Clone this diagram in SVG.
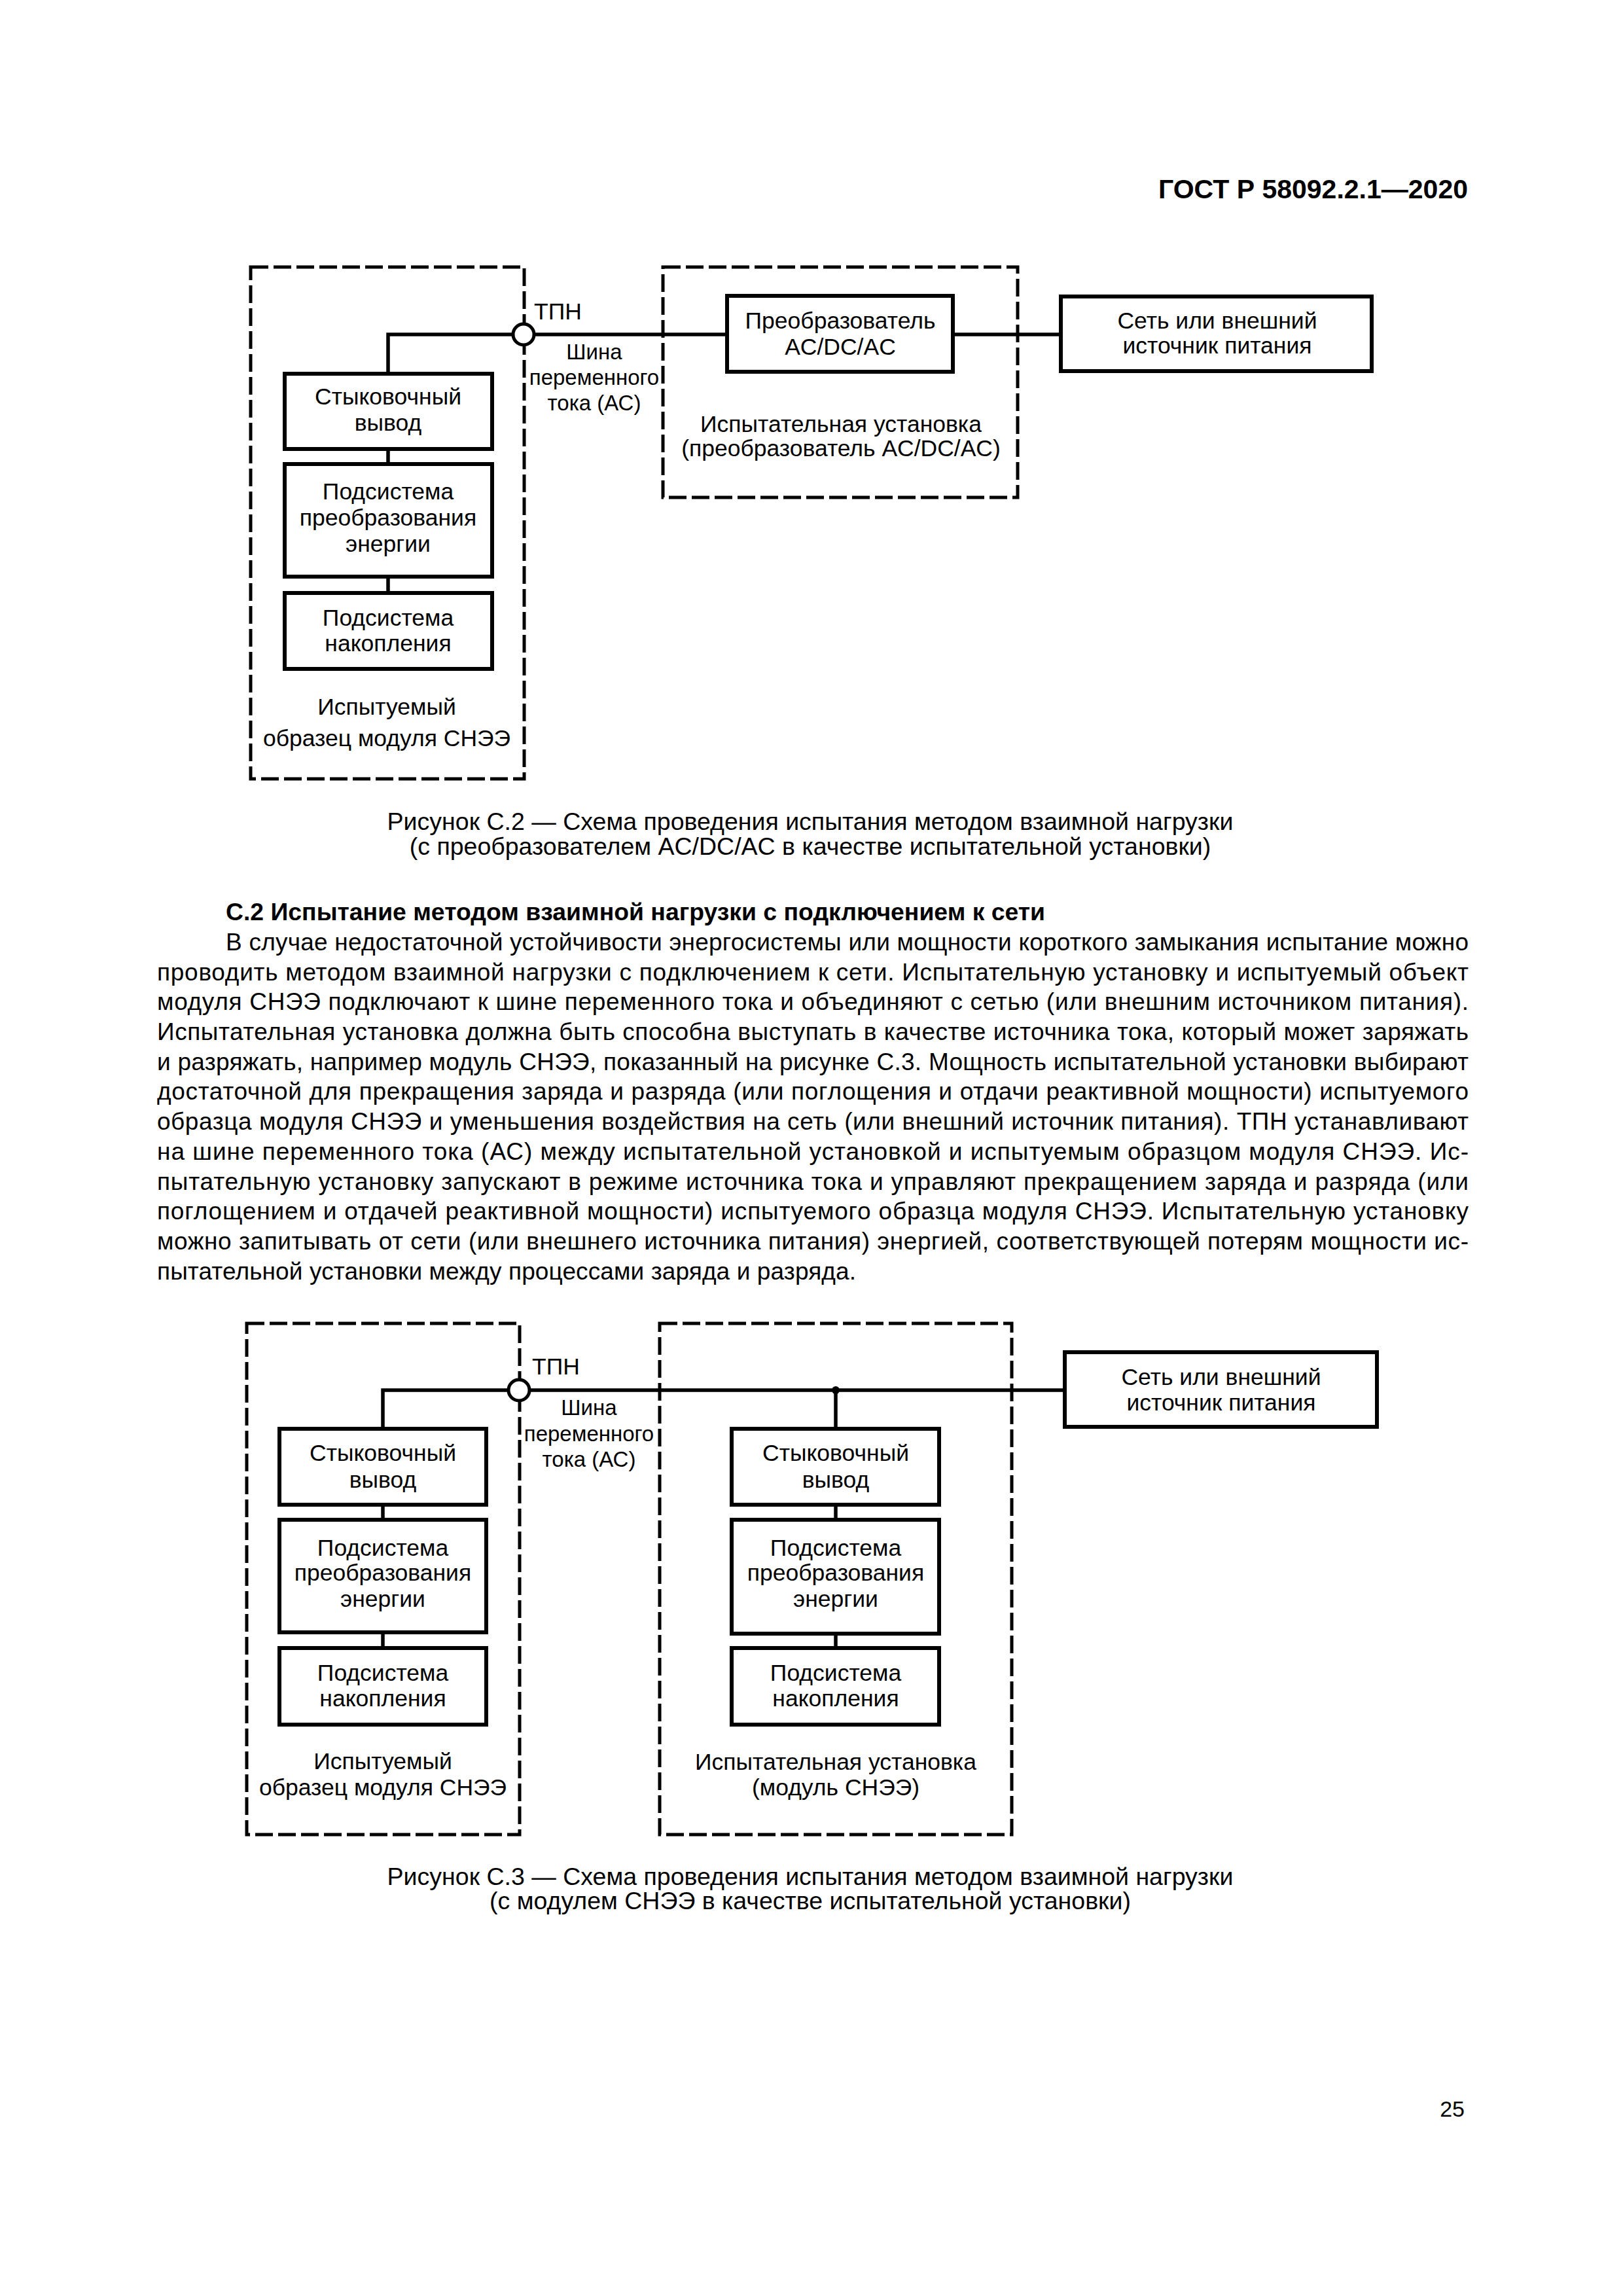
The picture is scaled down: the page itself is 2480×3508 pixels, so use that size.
<svg xmlns="http://www.w3.org/2000/svg" width="2480" height="3508" viewBox="0 0 2480 3508">
<style>
.dash{fill:none;stroke:#000;stroke-width:5;stroke-dasharray:27 8}
.box{fill:#fff;stroke:#000;stroke-width:6}
.wire{fill:none;stroke:#000;stroke-width:5.5}
.tp{fill:#fff;stroke:#000;stroke-width:5}
text{font-family:"Liberation Sans",Arial,sans-serif;fill:#000}
.d{font-size:35.5px}
.bus{font-size:33px}
.c{text-anchor:middle}
.cap{font-size:37.5px;text-anchor:middle}
.body{font-size:37px}
.h{font-size:37px;font-weight:bold}
</style>
<rect width="2480" height="3508" fill="#fff"/>
<text x="2243" y="303" font-size="41" font-weight="bold" text-anchor="end">ГОСТ Р 58092.2.1—2020</text>

<!-- Figure C.2 -->
<g id="c2-frames">
<path class="dash" d="M383 408 H801 V1190 H383 Z"/>
<path class="dash" d="M1013 408 H1555 V760 H1013 Z"/>
</g>
<g id="c2-connectors">
<path class="wire" d="M593 570 V511 H1111"/>
<path class="wire" d="M1456 511 H1621"/>
<path class="wire" d="M593 686 V709"/>
<path class="wire" d="M593 881 V906"/>
</g>
<g id="c2-dock">
<rect class="box" x="435" y="571" width="317" height="115"/>
<text class="d c" x="593" y="618">Стыковочный</text>
<text class="d c" x="593" y="658">вывод</text>
</g>
<g id="c2-pcs">
<rect class="box" x="435" y="709" width="317" height="172"/>
<text class="d c" x="593" y="763">Подсистема</text>
<text class="d c" x="593" y="803">преобразования</text>
<text class="d c" x="593" y="843">энергии</text>
</g>
<g id="c2-storage">
<rect class="box" x="435" y="906" width="317" height="116"/>
<text class="d c" x="593" y="956">Подсистема</text>
<text class="d c" x="593" y="995">накопления</text>
</g>
<g id="c2-dut-label">
<text class="d c" x="591" y="1092">Испытуемый</text>
<text class="d c" x="591" y="1140">образец модуля СНЭЭ</text>
</g>
<g id="c2-tpn">
<circle class="tp" cx="800" cy="511" r="16"/>
<text class="d" x="816" y="488">ТПН</text>
<text class="bus c" x="908" y="549">Шина</text>
<text class="bus c" x="908" y="588">переменного</text>
<text class="bus c" x="908" y="627">тока (АС)</text>
</g>
<g id="c2-converter">
<rect class="box" x="1111" y="452" width="345" height="116"/>
<text class="d c" x="1284" y="502">Преобразователь</text>
<text class="d c" x="1284" y="542">AC/DC/AC</text>
</g>
<g id="c2-tester-label">
<text class="d c" x="1285" y="660">Испытательная установка</text>
<text class="d c" x="1285" y="697">(преобразователь AC/DC/AC)</text>
</g>
<g id="c2-grid">
<rect class="box" x="1621" y="453" width="475" height="114"/>
<text class="d c" x="1860" y="502">Сеть или внешний</text>
<text class="d c" x="1860" y="540">источник питания</text>
</g>

<text class="cap" x="1238" y="1268">Рисунок С.2 — Схема проведения испытания методом взаимной нагрузки</text>
<text class="cap" x="1238" y="1306">(с преобразователем AC/DC/AC в качестве испытательной установки)</text>

<text class="h" x="345" y="1406" textLength="1252" lengthAdjust="spacingAndGlyphs">С.2 Испытание методом взаимной нагрузки с подключением к сети</text>
<g class="body">
<text class="body" x="345" y="1452" textLength="1899" lengthAdjust="spacing">В случае недостаточной устойчивости энергосистемы или мощности короткого замыкания испытание можно</text>
<text class="body" x="240" y="1498" textLength="2004" lengthAdjust="spacing">проводить методом взаимной нагрузки с подключением к сети. Испытательную установку и испытуемый объект</text>
<text class="body" x="240" y="1543" textLength="2004" lengthAdjust="spacing">модуля СНЭЭ подключают к шине переменного тока и объединяют с сетью (или внешним источником питания).</text>
<text class="body" x="240" y="1589" textLength="2004" lengthAdjust="spacing">Испытательная установка должна быть способна выступать в качестве источника тока, который может заряжать</text>
<text class="body" x="240" y="1635" textLength="2004" lengthAdjust="spacing">и разряжать, например модуль СНЭЭ, показанный на рисунке С.3. Мощность испытательной установки выбирают</text>
<text class="body" x="240" y="1680" textLength="2004" lengthAdjust="spacing">достаточной для прекращения заряда и разряда (или поглощения и отдачи реактивной мощности) испытуемого</text>
<text class="body" x="240" y="1726" textLength="2004" lengthAdjust="spacing">образца модуля СНЭЭ и уменьшения воздействия на сеть (или внешний источник питания). ТПН устанавливают</text>
<text class="body" x="240" y="1772" textLength="2004" lengthAdjust="spacing">на шине переменного тока (АС) между испытательной установкой и испытуемым образцом модуля СНЭЭ. Ис-</text>
<text class="body" x="240" y="1818" textLength="2004" lengthAdjust="spacing">пытательную установку запускают в режиме источника тока и управляют прекращением заряда и разряда (или</text>
<text class="body" x="240" y="1863" textLength="2004" lengthAdjust="spacing">поглощением и отдачей реактивной мощности) испытуемого образца модуля СНЭЭ. Испытательную установку</text>
<text class="body" x="240" y="1909" textLength="2004" lengthAdjust="spacing">можно запитывать от сети (или внешнего источника питания) энергией, соответствующей потерям мощности ис-</text>
<text class="body" x="240" y="1955" textLength="1068" lengthAdjust="spacing">пытательной установки между процессами заряда и разряда.</text>
</g>

<!-- Figure C.3 -->
<g id="c3-frames">
<path class="dash" d="M377 2022 H794 V2803 H377 Z"/>
<path class="dash" d="M1008 2022 H1546 V2803 H1008 Z"/>
</g>
<g id="c3-connectors">
<path class="wire" d="M585 2183 V2124 H1627"/>
<path class="wire" d="M585 2299 V2322"/>
<path class="wire" d="M585 2494 V2518"/>
<path class="wire" d="M1277 2124 V2183"/>
<path class="wire" d="M1277 2299 V2322"/>
<path class="wire" d="M1277 2496 V2518"/>
<circle cx="1277" cy="2124" r="6" fill="#000"/>
</g>
<g id="c3-dut-dock">
<rect class="box" x="427" y="2183" width="316" height="116"/>
<text class="d c" x="585" y="2232">Стыковочный</text>
<text class="d c" x="585" y="2273">вывод</text>
</g>
<g id="c3-dut-pcs">
<rect class="box" x="427" y="2322" width="316" height="172"/>
<text class="d c" x="585" y="2377">Подсистема</text>
<text class="d c" x="585" y="2415">преобразования</text>
<text class="d c" x="585" y="2455">энергии</text>
</g>
<g id="c3-dut-storage">
<rect class="box" x="427" y="2518" width="316" height="117"/>
<text class="d c" x="585" y="2568">Подсистема</text>
<text class="d c" x="585" y="2607">накопления</text>
</g>
<g id="c3-dut-label">
<text class="d c" x="585" y="2703">Испытуемый</text>
<text class="d c" x="585" y="2743">образец модуля СНЭЭ</text>
</g>
<g id="c3-tpn">
<circle class="tp" cx="793" cy="2124" r="16"/>
<text class="d" x="813" y="2100">ТПН</text>
<text class="bus c" x="900" y="2162">Шина</text>
<text class="bus c" x="900" y="2202">переменного</text>
<text class="bus c" x="900" y="2241">тока (АС)</text>
</g>
<g id="c3-tester-dock">
<rect class="box" x="1118" y="2183" width="317" height="116"/>
<text class="d c" x="1277" y="2232">Стыковочный</text>
<text class="d c" x="1277" y="2273">вывод</text>
</g>
<g id="c3-tester-pcs">
<rect class="box" x="1118" y="2322" width="317" height="174"/>
<text class="d c" x="1277" y="2377">Подсистема</text>
<text class="d c" x="1277" y="2415">преобразования</text>
<text class="d c" x="1277" y="2455">энергии</text>
</g>
<g id="c3-tester-storage">
<rect class="box" x="1118" y="2518" width="317" height="117"/>
<text class="d c" x="1277" y="2568">Подсистема</text>
<text class="d c" x="1277" y="2607">накопления</text>
</g>
<g id="c3-tester-label">
<text class="d c" x="1277" y="2704">Испытательная установка</text>
<text class="d c" x="1277" y="2743">(модуль СНЭЭ)</text>
</g>
<g id="c3-grid">
<rect class="box" x="1627" y="2066" width="477" height="114"/>
<text class="d c" x="1866" y="2116">Сеть или внешний</text>
<text class="d c" x="1866" y="2155">источник питания</text>
</g>

<text class="cap" x="1238" y="2880">Рисунок С.3 — Схема проведения испытания методом взаимной нагрузки</text>
<text class="cap" x="1238" y="2917">(с модулем СНЭЭ в качестве испытательной установки)</text>

<text x="2238" y="3234" font-size="34" text-anchor="end">25</text>
</svg>
